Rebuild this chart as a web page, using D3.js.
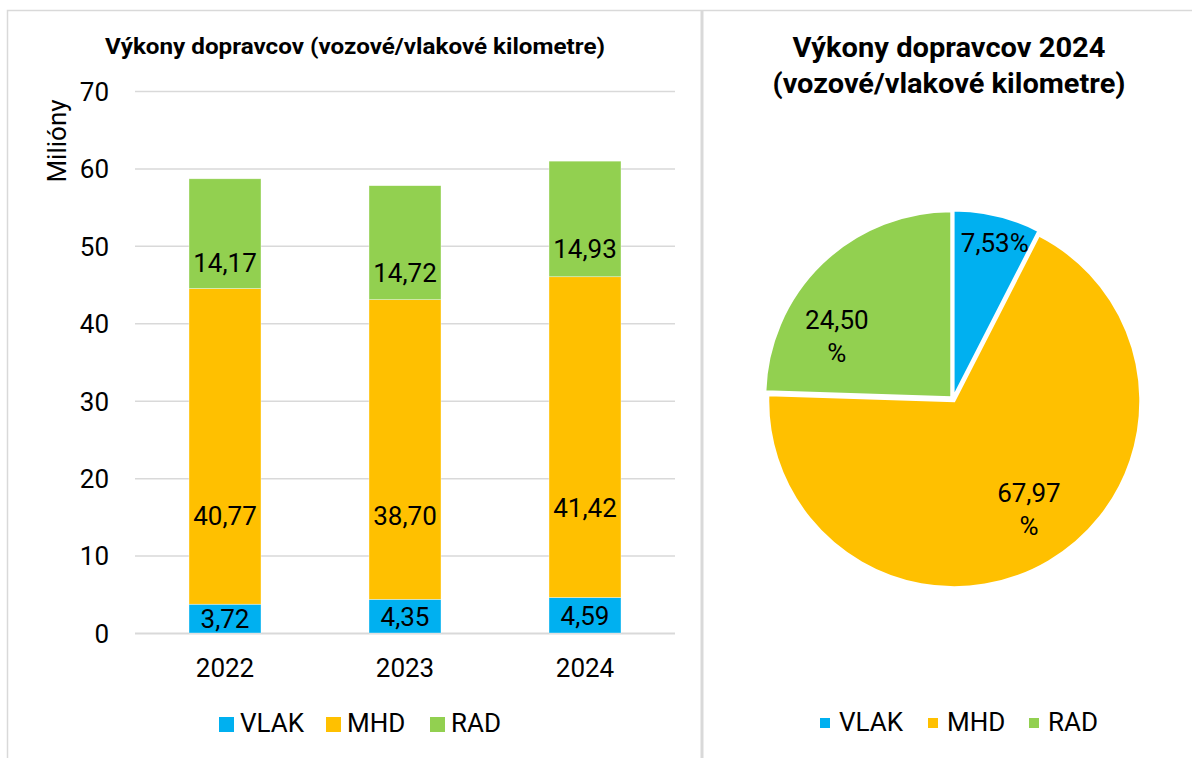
<!DOCTYPE html>
<html>
<head>
<meta charset="utf-8">
<script src="https://cdn.jsdelivr.net/npm/d3@7"></script>
<style>
  html, body { margin: 0; padding: 0; background: #fff; }
  svg { display: block; font-family: Roboto, "Noto Sans", sans-serif; }
</style>
</head>
<body>
<svg id="chart" width="1192" height="758"></svg>
<script>
// ---------------- data ----------------
const categories = ["2022", "2023", "2024"];
const seriesNames = ["VLAK", "MHD", "RAD"];
const vlakValues = [3.72, 4.35, 4.59];
const mhdValues = [40.77, 38.70, 41.42];
const radValues = [14.17, 14.72, 14.93];
const yTickValues = [0, 10, 20, 30, 40, 50, 60, 70];
const barTitle = "Výkony dopravcov (vozové/vlakové kilometre)";
const yAxisTitle = "Milióny";
const pieTitleLines = ["Výkony dopravcov 2024", "(vozové/vlakové kilometre)"];
const pieYear = "2024";

// ---------------- style / layout ----------------
const colors = ["#00B0F0", "#FFC000", "#92D050"];
const gridColor = "#d9d9d9";
const fontSize = 26;
// label vertical position inside each segment (fraction from top of segment)
const segLabelFrac = [0.5, 0.72, 0.76];
// pie label placement: [angle offset in degrees, radius fraction, wrap]
const pieLabelPlace = [[1.4, 0.87, false], [-4, 0.72, true], [-17.5, 0.71, true]];

const svg = d3.select("#chart");
svg.append("rect").attr("width", 1192).attr("height", 758).attr("fill", "#fff");

// frames
svg.append("rect").attr("x", 7.5).attr("y", 10.5).attr("width", 1200).attr("height", 800)
  .attr("fill", "none").attr("stroke", gridColor).attr("stroke-width", 1.5);
svg.append("line").attr("x1", 702).attr("x2", 702).attr("y1", 10).attr("y2", 760)
  .attr("stroke", gridColor).attr("stroke-width", 3);

const fmt = v => d3.format(".2f")(v).replace(".", ",");

// ---------------- bar chart ----------------
const plot = { left: 135, right: 675, top: 91, bottom: 633 };
const x = d3.scaleBand().domain(categories).range([plot.left, plot.right]).paddingInner(0.6).paddingOuter(0.3);
const y = d3.scaleLinear().domain([0, 70]).range([plot.bottom, plot.top]);

const table = categories.map((c, i) => ({ cat: c, VLAK: vlakValues[i], MHD: mhdValues[i], RAD: radValues[i] }));
const stacked = d3.stack().keys(seriesNames)(table);

// grid
const yAxis = d3.axisLeft(y).tickValues(yTickValues).tickSize(-(plot.right - plot.left)).tickFormat(d3.format("d"));
const gy = svg.append("g").attr("transform", `translate(${plot.left},0)`).call(yAxis);
gy.select(".domain").remove();
gy.selectAll(".tick line").attr("stroke", gridColor).attr("stroke-width", 1.5);
gy.selectAll(".tick text").attr("x", -26).attr("font-size", fontSize).attr("fill", "#000")
  .attr("font-family", "Roboto").attr("dy", "0.36em");
gy.selectAll(".tick").filter(d => d === 0).select("line").attr("stroke-width", 2);

// bars
const layers = svg.append("g").selectAll("g").data(stacked).join("g")
  .attr("fill", (d, i) => colors[i]);
layers.selectAll("rect").data(d => d).join("rect")
  .attr("x", d => x(d.data.cat))
  .attr("width", x.bandwidth())
  .attr("y", d => y(d[1]))
  .attr("height", d => y(d[0]) - y(d[1]))
  .attr("stroke", "#fff").attr("stroke-width", 0.6).attr("stroke-opacity", 0.6);

// segment labels
stacked.forEach((layer, si) => {
  svg.append("g").selectAll("text").data(layer).join("text")
    .attr("x", d => x(d.data.cat) + x.bandwidth() / 2)
    .attr("y", d => y(d[1]) + (y(d[0]) - y(d[1])) * segLabelFrac[si])
    .attr("dy", "0.36em")
    .attr("text-anchor", "middle")
    .attr("font-size", fontSize)
    .attr("fill", "#000")
    .text(d => fmt(d[1] - d[0]));
});

// x axis labels
const xAxis = d3.axisBottom(x).tickSize(0);
const gx = svg.append("g").attr("transform", `translate(0,${plot.bottom})`).call(xAxis);
gx.select(".domain").remove();
gx.selectAll(".tick text").attr("font-size", fontSize).attr("fill", "#000")
  .attr("font-family", "Roboto").attr("dy", 0).attr("y", 44);

// y axis title
svg.append("text")
  .attr("transform", "translate(66,141) rotate(-90)")
  .attr("text-anchor", "middle")
  .attr("font-size", fontSize).attr("fill", "#000")
  .text(yAxisTitle);

// bar title
svg.append("text")
  .attr("x", 355).attr("y", 54).attr("text-anchor", "middle")
  .attr("font-size", 22.5).attr("font-weight", "bold").attr("fill", "#000")
  .attr("textLength", 500).attr("lengthAdjust", "spacingAndGlyphs")
  .text(barTitle);

// bar legend
const legL = svg.append("g");
const legLX = [219, 326, 430];
seriesNames.forEach((s, i) => {
  legL.append("rect").attr("x", legLX[i]).attr("y", 717).attr("width", 15).attr("height", 15).attr("fill", colors[i]);
  legL.append("text").attr("x", legLX[i] + 21).attr("y", 732).attr("font-size", fontSize).attr("fill", "#000").text(s);
});

// ---------------- pie chart ----------------
const yi = categories.indexOf(pieYear);
const pieValues = [vlakValues[yi], mhdValues[yi], radValues[yi]];
const total = d3.sum(pieValues);
const cx = 953, cy = 399, R = 186, explode = 2.5;
const pie = d3.pie().sort(null).value(d => d);
const arcs = pie(pieValues);
const arc = d3.arc().innerRadius(0).outerRadius(R);

const pg = svg.append("g").attr("transform", `translate(${cx},${cy})`);
pg.selectAll("path").data(arcs).join("path")
  .attr("d", arc)
  .attr("fill", (d, i) => colors[i])
  .attr("stroke", "#fff").attr("stroke-width", 2)
  .attr("transform", d => {
    const m = (d.startAngle + d.endAngle) / 2;
    return `translate(${Math.sin(m) * explode},${-Math.cos(m) * explode})`;
  });

arcs.forEach((d, i) => {
  const [off, frac, wrap] = pieLabelPlace[i];
  const a = (d.startAngle + d.endAngle) / 2 + off * Math.PI / 180;
  const lx = Math.sin(a) * R * frac, ly = -Math.cos(a) * R * frac;
  const txt = fmt(d.data / total * 100);
  const t = pg.append("text").attr("text-anchor", "middle").attr("font-size", fontSize).attr("fill", "#000");
  if (wrap) {
    t.append("tspan").attr("x", lx).attr("y", ly - 16.5).attr("dy", "0.36em").text(txt);
    t.append("tspan").attr("x", lx).attr("y", ly + 16.5).attr("dy", "0.36em").text("%");
  } else {
    t.append("tspan").attr("x", lx).attr("y", ly).attr("dy", "0.36em").text(txt + "%");
  }
});

// pie title
pieTitleLines.forEach((line, i) => {
  svg.append("text")
    .attr("x", 949).attr("y", 57 + i * 36).attr("text-anchor", "middle")
    .attr("font-size", 27).attr("font-weight", "bold").attr("fill", "#000")
    .attr("textLength", i === 0 ? 313 : 353).attr("lengthAdjust", "spacingAndGlyphs")
    .text(line);
});

// pie legend
const legP = svg.append("g");
const legPX = [820, 928, 1029];
seriesNames.forEach((s, i) => {
  legP.append("rect").attr("x", legPX[i]).attr("y", 718).attr("width", 10).attr("height", 10).attr("fill", colors[i]);
  legP.append("text").attr("x", legPX[i] + 19).attr("y", 731).attr("font-size", fontSize).attr("fill", "#000").text(s);
});
</script>
</body>
</html>
